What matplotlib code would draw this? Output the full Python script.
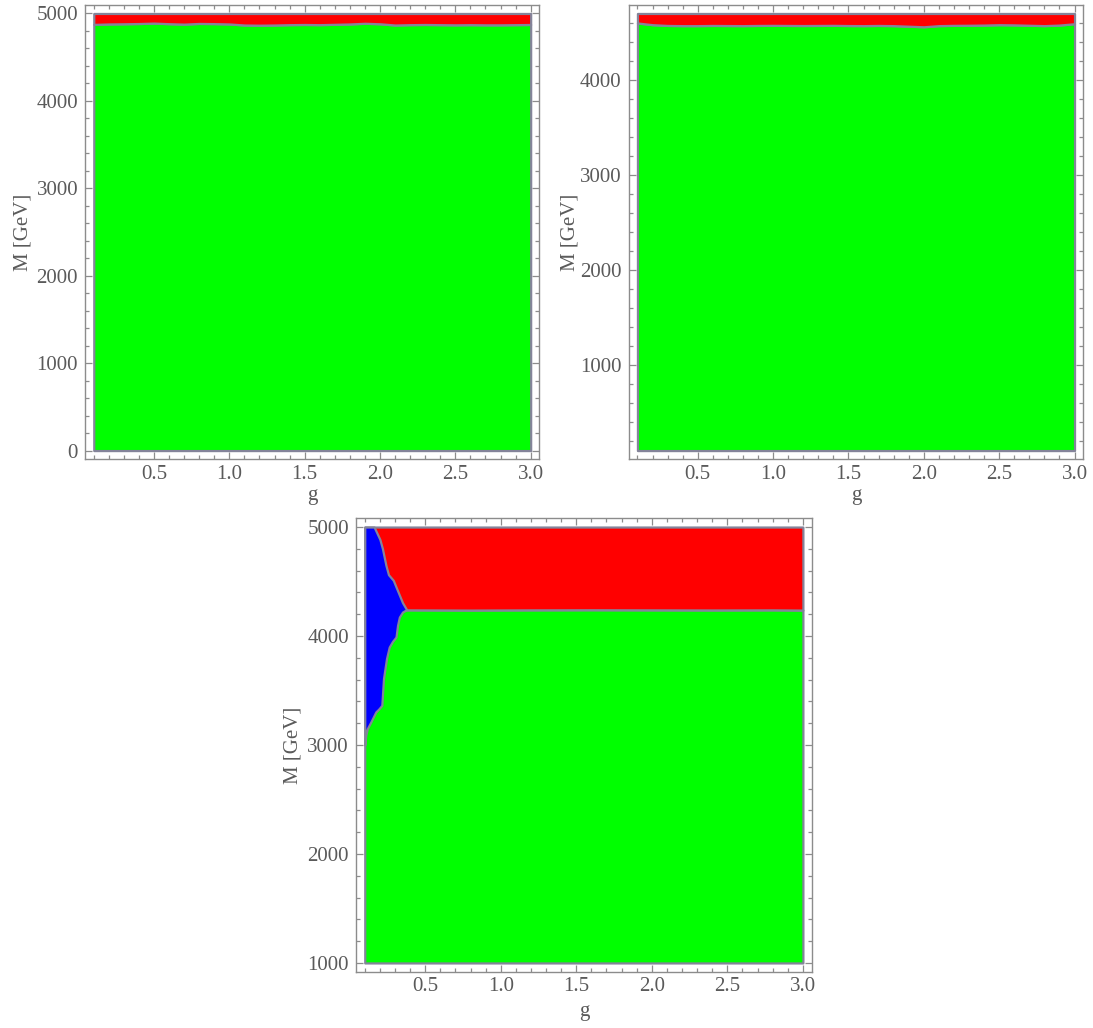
import matplotlib
matplotlib.use("Agg")
import matplotlib.pyplot as plt
from matplotlib.ticker import MultipleLocator

plt.rcParams['font.family'] = ['Liberation Serif', 'DejaVu Serif']

# coupling grid shared by the two upper panels
g_grid = [0.1, 0.2, 0.3, 0.4, 0.5, 0.6, 0.7, 0.8, 0.9, 1.0,
          1.1, 1.2, 1.3, 1.4, 1.5, 1.6, 1.7, 1.8, 1.9, 2.0,
          2.1, 2.2, 2.3, 2.4, 2.5, 2.6, 2.7, 2.8, 2.9, 3.0]

# panel 1: excluded (red) above this mass, M in [0, 5000]
m_edge_1 = [4875, 4880, 4882, 4885, 4890, 4883, 4878, 4886, 4884, 4880,
            4868, 4866, 4868, 4872, 4874, 4872, 4876, 4880, 4888, 4882,
            4868, 4872, 4874, 4872, 4870, 4872, 4870, 4870, 4872, 4874]
m_range_1 = (0, 5000)

# panel 2: M in [100, 4700]
m_edge_2 = [4600, 4582, 4574, 4572, 4572, 4574, 4573, 4572, 4574, 4575,
            4574, 4573, 4574, 4575, 4573, 4572, 4574, 4572, 4566, 4560,
            4572, 4575, 4576, 4578, 4582, 4580, 4576, 4572, 4578, 4592]
m_range_2 = (100, 4700)

# panel 3: M in [1000, 5000], red/green edge and blue pocket at small g
g_edge_3 = [0.1, 0.377, 0.8, 1.2, 1.6, 2.0, 2.4, 2.8, 3.0]
m_edge_3 = [4240, 4240, 4238, 4240, 4241, 4240, 4239, 4240, 4238]
m_range_3 = (1000, 5000)

m_blue = [3000, 3089, 3150, 3211, 3303, 3334, 3364, 3609, 3793, 3899, 3951,
          3991, 4098, 4174, 4220, 4242, 4306, 4450, 4511, 4563, 4649, 4802,
          4887, 5000]
g_blue = [0.100, 0.107, 0.117, 0.140, 0.173, 0.195, 0.213, 0.224, 0.244,
          0.262, 0.284, 0.307, 0.317, 0.329, 0.350, 0.377, 0.350, 0.307,
          0.289, 0.257, 0.240, 0.217, 0.200, 0.162]

GREEN, RED, BLUE = '#00ff00', '#ff0000', '#0000ff'
EDGE = '#84849a'
FRAME = '#8c8c8c'
TEXT = '#5a5a5a'

fig = plt.figure(figsize=(10.93, 10.28), dpi=100)
ax1 = fig.add_axes([0.0778, 0.5532, 0.4157, 0.4422])
ax2 = fig.add_axes([0.5752, 0.5532, 0.4159, 0.4422])
ax3 = fig.add_axes([0.3257, 0.0548, 0.4169, 0.4410])


def style(ax, mr, ylab_x, xlab_y):
    g0, g1 = g_grid[0], g_grid[-1]
    px = 0.02 * (g1 - g0)
    py = 0.02 * (mr[1] - mr[0])
    ax.set_xlim(g0 - px, g1 + px)
    ax.set_ylim(mr[0] - py, mr[1] + py)
    ax.xaxis.set_major_locator(MultipleLocator(0.5))
    ax.xaxis.set_minor_locator(MultipleLocator(0.1))
    ax.yaxis.set_major_locator(MultipleLocator(1000))
    ax.yaxis.set_minor_locator(MultipleLocator(200))
    ax.tick_params(which='both', direction='in', top=True, right=True,
                   colors=FRAME, labelcolor=TEXT, labelsize=15, width=0.9)
    ax.tick_params(which='major', length=5)
    ax.tick_params(axis='y', which='major', pad=5)
    ax.tick_params(axis='x', which='major', pad=4)
    ax.tick_params(which='minor', length=2.8)
    ax.set_xticks([0.5, 1.0, 1.5, 2.0, 2.5, 3.0])
    for s in ax.spines.values():
        s.set_color(FRAME)
        s.set_linewidth(1.0)
    ax.set_xlabel('g', fontsize=15, color=TEXT)
    ax.set_ylabel('M [GeV]', fontsize=15, color=TEXT)
    ax.yaxis.set_label_coords(ylab_x, 0.5)
    ax.xaxis.set_label_coords(0.5, xlab_y)


# upper panels
for ax, edge, mr in [(ax1, m_edge_1, m_range_1), (ax2, m_edge_2, m_range_2)]:
    ax.fill_between(g_grid, mr[0], edge, facecolor=GREEN, edgecolor=EDGE,
                    linewidth=1.6, zorder=2)
    ax.fill_between(g_grid, edge, mr[1], facecolor=RED, edgecolor=EDGE,
                    linewidth=1.6, zorder=2)

# lower panel
ax3.fill_between(g_edge_3, m_range_3[0], m_edge_3, facecolor=GREEN,
                 edgecolor=EDGE, linewidth=1.6, zorder=2)
ax3.fill_between(g_edge_3, m_edge_3, m_range_3[1], facecolor=RED,
                 edgecolor=EDGE, linewidth=1.6, zorder=2)
ax3.fill_betweenx(m_blue, g_grid[0], g_blue, facecolor=BLUE,
                  edgecolor=EDGE, linewidth=1.6, zorder=3)

style(ax1, m_range_1, -0.115, -0.058)
style(ax2, m_range_2, -0.109, -0.058)
style(ax3, m_range_3, -0.118, -0.066)

fig.savefig('out.png', dpi=100)
